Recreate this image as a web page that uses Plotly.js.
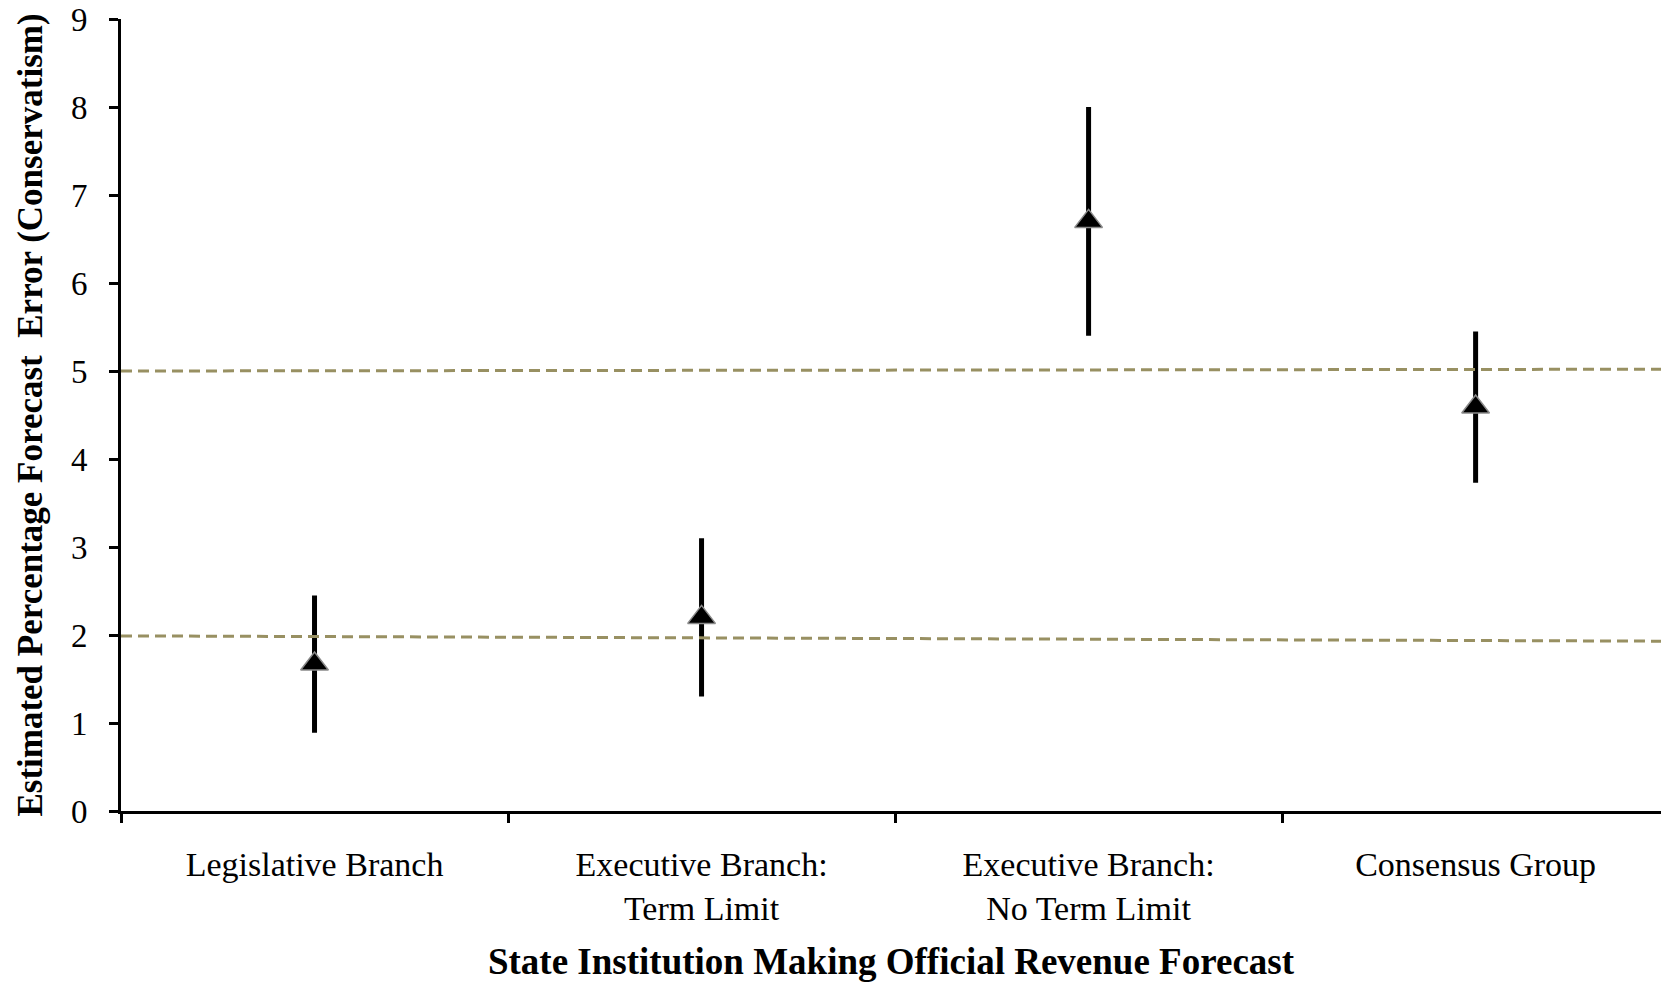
<!DOCTYPE html>
<html>
<head>
<meta charset="utf-8">
<script src="https://cdn.plot.ly/plotly-3.0.1.min.js"></script>
<style>html,body{margin:0;padding:0;background:#fff;}#chart{width:1661px;height:982px;}</style>
</head>
<body>
<div id="chart"></div>
<script>
var categories = ["Legislative Branch", "Executive Branch:<br>Term Limit", "Executive Branch:<br>No Term Limit", "Consensus Group"];
var estimates = [1.67, 2.2, 6.7, 4.59];
var errors = [0.78, 0.9, 1.3, 0.86];
var upperRefX = [0, 1];
var upperRefY = [5.0, 5.02];
var lowerRefX = [0, 1];
var lowerRefY = [1.99, 1.93];
var yTicks = [0, 1, 2, 3, 4, 5, 6, 7, 8, 9];

var serif = "Liberation Serif, Times New Roman, serif";
var refLine = {color: "#989062", width: 3, dash: "11px,6px"};

var traces = [
  {
    x: categories, y: estimates, type: "scatter", mode: "markers",
    marker: {symbol: "triangle-up", size: 24, color: "#000", line: {color: "#8a8a8a", width: 1.5}},
    error_y: {type: "data", array: errors, visible: true, thickness: 5, width: 0, color: "#000"},
    showlegend: false, hoverinfo: "skip"
  },
  {x: upperRefX, y: upperRefY, xaxis: "x2", type: "scatter", mode: "lines", line: refLine, showlegend: false, hoverinfo: "skip"},
  {x: lowerRefX, y: lowerRefY, xaxis: "x2", type: "scatter", mode: "lines", line: refLine, showlegend: false, hoverinfo: "skip"}
];

var layout = {
  width: 1661, height: 982,
  margin: {l: 121, r: 0, t: 19, b: 171},
  paper_bgcolor: "#fff", plot_bgcolor: "#fff",
  font: {family: serif, color: "#000", size: 32},
  xaxis: {
    type: "category", range: [-0.5, 3.479],
    showline: true, linecolor: "#000", linewidth: 3,
    ticks: "outside", tickson: "boundaries", ticklen: 9, tickwidth: 3, tickcolor: "#000",
    showgrid: false, zeroline: false,
    tickfont: {family: serif, size: 34, color: "#000"},
    ticklabelstandoff: 21,
    title: {text: "State Institution Making Official Revenue Forecast", font: {family: serif, size: 37, color: "#000", weight: "bold"}, standoff: 32}
  },
  xaxis2: {overlaying: "x", range: [0, 1], visible: false, fixedrange: true},
  yaxis: {
    range: [0, 9], tickvals: yTicks,
    showline: true, linecolor: "#000", linewidth: 3,
    ticks: "outside", ticklen: 9, tickwidth: 3, tickcolor: "#000",
    showgrid: false, zeroline: false,
    tickfont: {family: serif, size: 33, color: "#000"},
    ticklabelstandoff: 15,
    title: {text: "Estimated Percentage Forecast  Error (Conservatism)", font: {family: serif, size: 35, color: "#000", weight: "bold"}, standoff: 18}
  }
};

Plotly.newPlot("chart", traces, layout, {displayModeBar: false, staticPlot: true});
</script>
</body>
</html>
